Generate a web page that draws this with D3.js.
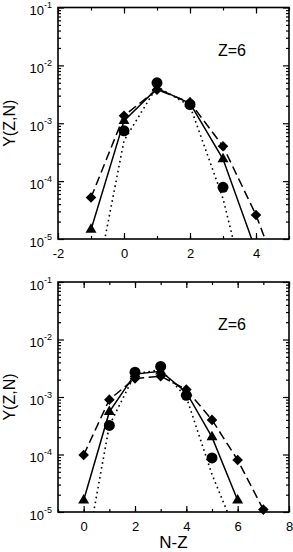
<!DOCTYPE html>
<html>
<head>
<meta charset="utf-8">
<script src="https://cdn.jsdelivr.net/npm/d3@7"></script>
<style>
  body { margin: 0; background: #fff; }
  svg { display: block; font-family: "Liberation Sans", Arial, sans-serif; }
</style>
</head>
<body>
<div id="chart"></div>
<script>
// top panel (x = N-Z)
const circTopX = [0, 1, 2, 3];
const circTopY = [7.4e-4, 5.0e-3, 2.1e-3, 7.8e-5];
const triTopX = [-1, 0, 1, 2, 3, 4];
const triTopY = [1.45e-5, 1.1e-3, 4.0e-3, 2.2e-3, 2.4e-4, 6.2e-6];
const diaTopX = [-1, 0, 1, 2, 3, 4, 5];
const diaTopY = [5.2e-5, 1.35e-3, 3.8e-3, 2.3e-3, 4.0e-4, 2.6e-5, 8e-7];
const dotTopX = [-1, 0, 1, 2, 3, 4];
const dotTopY = [6e-7, 5.0e-4, 4.3e-3, 2.0e-3, 5.0e-5, 2.5e-7];

// bottom panel
const circBotX = [1, 2, 3, 4, 5];
const circBotY = [3.2e-4, 2.7e-3, 3.4e-3, 1.07e-3, 8.7e-5];
const triBotX = [0, 1, 2, 3, 4, 5, 6];
const triBotY = [1.6e-5, 5.5e-4, 2.5e-3, 2.8e-3, 1.2e-3, 2.0e-4, 1.6e-5];
const diaBotX = [0, 1, 2, 3, 4, 5, 6, 7];
const diaBotY = [9.8e-5, 9.0e-4, 2.1e-3, 2.3e-3, 1.35e-3, 4.0e-4, 8.0e-5, 1.1e-5];
const dotBotX = [0, 1, 2, 3, 4, 5, 6];
const dotBotY = [1.1e-6, 3.2e-4, 2.5e-3, 3.0e-3, 1.0e-3, 4.5e-5, 3.7e-6];

const xTicksTop = [-2, 0, 2, 4];
const xTicksBot = [0, 2, 4, 6, 8];
const yDecades = [1e-1, 1e-2, 1e-3, 1e-4, 1e-5];
const panelLabel = "Z=6";

const W = 293, H = 552;
const svg = d3.select("#chart").append("svg")
  .attr("width", W)
  .attr("height", H);

const zip = (xs, ys) => xs.map((x, i) => ({ x: x, y: ys[i] }));

function panel(id, top, bottom, xDomain, xTicks, series, showXLabel) {
  const left = 58, right = 289;
  const x = d3.scaleLinear().domain(xDomain).range([left, right]);
  const y = d3.scaleLog().domain([1e-5, 1e-1]).range([bottom, top]);
  const g = svg.append("g");

  g.append("clipPath").attr("id", "clip" + id)
    .append("rect")
    .attr("x", left).attr("y", top)
    .attr("width", right - left).attr("height", bottom - top);

  // minor ticks every unit / every 1..9 of the decade
  const xMinor = d3.range(Math.ceil(xDomain[0]), xDomain[1] + 0.01, 1);
  const yMinor = y.ticks().filter(v => yDecades.indexOf(v) < 0);

  const axes = [
    [d3.axisBottom(x), bottom, true], [d3.axisTop(x), top, true],
    [d3.axisLeft(y), left, false], [d3.axisRight(y), right, false]
  ];
  axes.forEach(([ax, pos, horiz]) => {
    g.append("g")
      .attr("transform", horiz ? `translate(0,${pos})` : `translate(${pos},0)`)
      .call(ax.tickValues(horiz ? xMinor : yMinor).tickSize(-3).tickFormat(""))
      .call(a => a.select(".domain").remove());
  });

  const xb = g.append("g")
    .attr("transform", `translate(0,${bottom})`)
    .call(d3.axisBottom(x).tickValues(xTicks).tickSize(-6).tickPadding(10).tickFormat(d => String(d)));
  g.append("g")
    .attr("transform", `translate(0,${top})`)
    .call(d3.axisTop(x).tickValues(xTicks).tickSize(-6).tickFormat(""));
  const yl = g.append("g")
    .attr("transform", `translate(${left},0)`)
    .call(d3.axisLeft(y).tickValues(yDecades).tickSize(-6).tickPadding(6).tickFormat(""));
  g.append("g")
    .attr("transform", `translate(${right},0)`)
    .call(d3.axisRight(y).tickValues(yDecades).tickSize(-6).tickFormat(""));

  g.selectAll(".domain").remove();
  g.selectAll(".tick line").attr("stroke", "#000").attr("stroke-width", 1.2);
  xb.selectAll("text").attr("font-size", 13).attr("fill", "#000");

  yl.selectAll(".tick text")
    .attr("fill", "#000")
    .attr("font-size", 13)
    .attr("dy", "0.55em")
    .each(function (d) {
      const t = d3.select(this);
      t.append("tspan").text("10");
      t.append("tspan")
        .attr("font-size", 9)
        .attr("dy", -7)
        .text(Math.round(Math.log10(d)));
    });

  // frame
  g.append("rect")
    .attr("x", left).attr("y", top)
    .attr("width", right - left).attr("height", bottom - top)
    .attr("fill", "none").attr("stroke", "#000").attr("stroke-width", 1.6);

  const line = d3.line().x(d => x(d.x)).y(d => y(d.y));
  const plot = g.append("g").attr("clip-path", `url(#clip${id})`);

  const styles = {
    dot: { dash: "1.6,3.4", width: 1.6 },
    tri: { dash: null, width: 1.5 },
    dia: { dash: "9,4.5", width: 1.5 }
  };
  ["dot", "tri", "dia"].forEach(k => {
    plot.append("path")
      .datum(series[k])
      .attr("d", line)
      .attr("fill", "none")
      .attr("stroke", "#000")
      .attr("stroke-width", styles[k].width)
      .attr("stroke-dasharray", styles[k].dash);
  });

  const inside = d => d.x >= xDomain[0] && d.x <= xDomain[1] && d.y >= 1e-5 * 0.9 && d.y <= 1e-1;

  g.selectAll(null)
    .data(series.dia.filter(inside))
    .enter().append("path")
    .attr("d", d3.symbol(d3.symbolSquare, 56)())
    .attr("transform", d => `translate(${x(d.x)},${y(d.y)}) rotate(45)`)
    .attr("fill", "#000");

  g.selectAll(null)
    .data(series.tri.filter(inside))
    .enter().append("path")
    .attr("d", d3.symbol(d3.symbolTriangle, 52)())
    .attr("transform", d => `translate(${x(d.x)},${y(d.y)})`)
    .attr("fill", "#000");

  g.selectAll(null)
    .data(series.circ.filter(inside))
    .enter().append("circle")
    .attr("cx", d => x(d.x))
    .attr("cy", d => y(d.y))
    .attr("r", 5.5)
    .attr("fill", "#000");

  g.append("text")
    .attr("x", 218).attr("y", top + 48)
    .attr("font-size", 16)
    .text(panelLabel);

  g.append("text")
    .attr("transform", `translate(15,${(top + bottom) / 2}) rotate(-90)`)
    .attr("text-anchor", "middle")
    .attr("font-size", 16)
    .text("Y(Z,N)");

  if (showXLabel) {
    g.append("text")
      .attr("x", (left + right) / 2).attr("y", 548)
      .attr("text-anchor", "middle")
      .attr("font-size", 17)
      .text("N-Z");
  }
}

panel("a", 7.5, 239, [-2, 5], xTicksTop, {
  circ: zip(circTopX, circTopY),
  tri: zip(triTopX, triTopY),
  dia: zip(diaTopX, diaTopY),
  dot: zip(dotTopX, dotTopY)
}, false);

panel("b", 282, 512, [-1, 8], xTicksBot, {
  circ: zip(circBotX, circBotY),
  tri: zip(triBotX, triBotY),
  dia: zip(diaBotX, diaBotY),
  dot: zip(dotBotX, dotBotY)
}, true);
</script>
</body>
</html>
